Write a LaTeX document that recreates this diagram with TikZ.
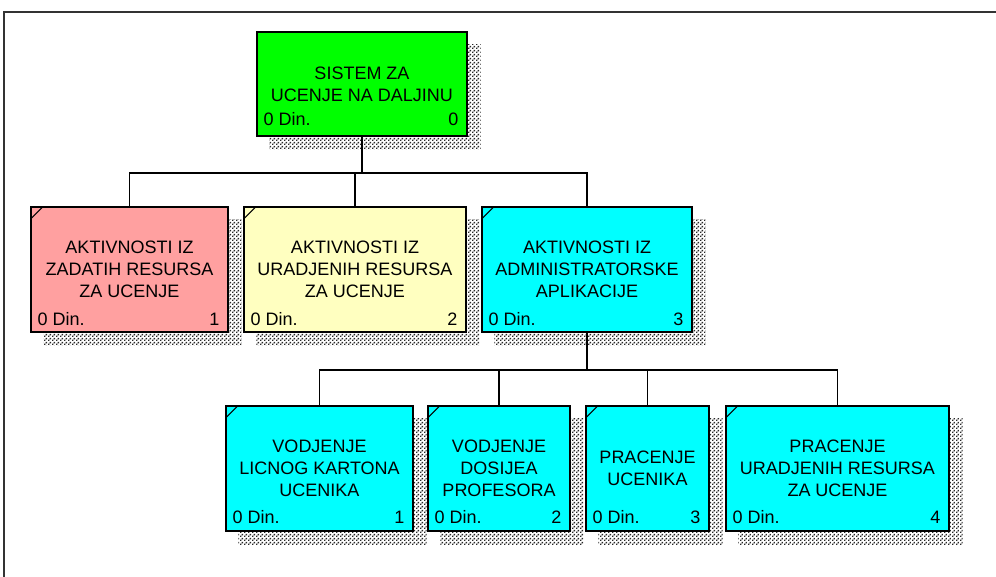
\documentclass[tikz,border=0pt]{standalone}
\usepackage{fontspec}
\setmainfont{Liberation Sans}
\usetikzlibrary{patterns,backgrounds}
\definecolor{rootgreen}{RGB}{0,255,0}
\definecolor{taskpink}{RGB}{255,160,160}
\definecolor{taskyellow}{RGB}{255,255,192}
\definecolor{taskcyan}{RGB}{0,255,255}
\pgfdeclarepatternformonly{wbsdots}{\pgfqpoint{0pt}{0pt}}{\pgfqpoint{3pt}{3pt}}{\pgfqpoint{3pt}{3pt}}{%
  \pgfpathrectangle{\pgfqpoint{0pt}{0pt}}{\pgfqpoint{1.3pt}{1.3pt}}%
  \pgfpathrectangle{\pgfqpoint{1.5pt}{1.5pt}}{\pgfqpoint{1.3pt}{1.3pt}}%
  \pgfusepath{fill}}

\begin{document}
\begin{tikzpicture}[x=0.75pt,y=-0.75pt,
  wbs/.style={draw=black,line width=1.1pt,minimum width=#1*0.75pt,minimum height=125*0.75pt,
    inner sep=0pt,align=center,font=\fontsize{13.5}{16.5}\selectfont},
  din/.style={inner sep=0pt,font=\fontsize{13.5}{16.5}\selectfont},
  link/.style={draw=black,line width=1.1pt},
  hatch/.style={pattern=wbsdots,pattern color=black!85}]
\useasboundingbox (0,0) rectangle (996,577);
\draw[line width=1pt,black!80] (4,577) -- (4,12) -- (996,12);

% top
\node[wbs=210,minimum height=104*0.75pt,fill=rootgreen] (root) at (362,84) {SISTEM ZA\\UCENJE NA DALJINU};
% second level
\node[wbs=197,fill=taskpink] (a1) at (129.5,269.5) {AKTIVNOSTI IZ\\ZADATIH RESURSA\\ZA UCENJE};
\node[wbs=222,fill=taskyellow] (a2) at (355,269.5) {AKTIVNOSTI IZ\\URADJENIH RESURSA\\ZA UCENJE};
\node[wbs=210,fill=taskcyan] (a3) at (587,269.5) {AKTIVNOSTI IZ\\ADMINISTRATORSKE\\APLIKACIJE};
% third level
\node[wbs=187,fill=taskcyan] (b1) at (319.5,468.5) {VODJENJE\\LICNOG KARTONA\\UCENIKA};
\node[wbs=142,fill=taskcyan] (b2) at (499,468.5) {VODJENJE\\DOSIJEA\\PROFESORA};
\node[wbs=123,fill=taskcyan] (b3) at (647.5,468.5) {PRACENJE\\UCENIKA};
\node[wbs=223,fill=taskcyan] (b4) at (837.5,468.5) {PRACENJE\\URADJENIH RESURSA\\ZA UCENJE};

\begin{scope}[on background layer]
\foreach \n in {root,a1,a2,a3,b1,b2,b3,b4}
  \fill[hatch] ([shift={(13,13)}]\n.north west) rectangle ([shift={(13,13)}]\n.south east);
\end{scope}

\foreach \n/\k/\d in {root/0/11,a1/1/7,a2/2/7,a3/3/7,b1/1/8,b2/2/8,b3/3/8,b4/4/8}{
  \node[din,anchor=base west] (\n-din) at ([shift={(7,-\d)}]\n.south west) {0 Din.};
  \node[din,anchor=base east] (\n-num) at ([shift={(-9,-\d)}]\n.south east) {\k};
}
\foreach \n in {a1,a2,a3,b1,b2,b3,b4}
  \draw[line width=0.8pt] ([shift={(1,12)}]\n.north west) -- ([shift={(12,1)}]\n.north west);

% connectors
\coordinate (j0) at (362,173);
\coordinate (j1) at (587,370);
\draw[link] (root.south) -- (j0);
\draw[link] (a1.north) |- (j0) -| (a3.north);
\draw[link] (a2.north) -- (a2.north |- j0);
\draw[link] (a3.south) -- (j1);
\draw[link] (b1.north) |- (j1) -| (b4.north);
\draw[link] (b2.north) -- (b2.north |- j1);
\draw[link] (b3.north) -- (b3.north |- j1);
\end{tikzpicture}
\end{document}
